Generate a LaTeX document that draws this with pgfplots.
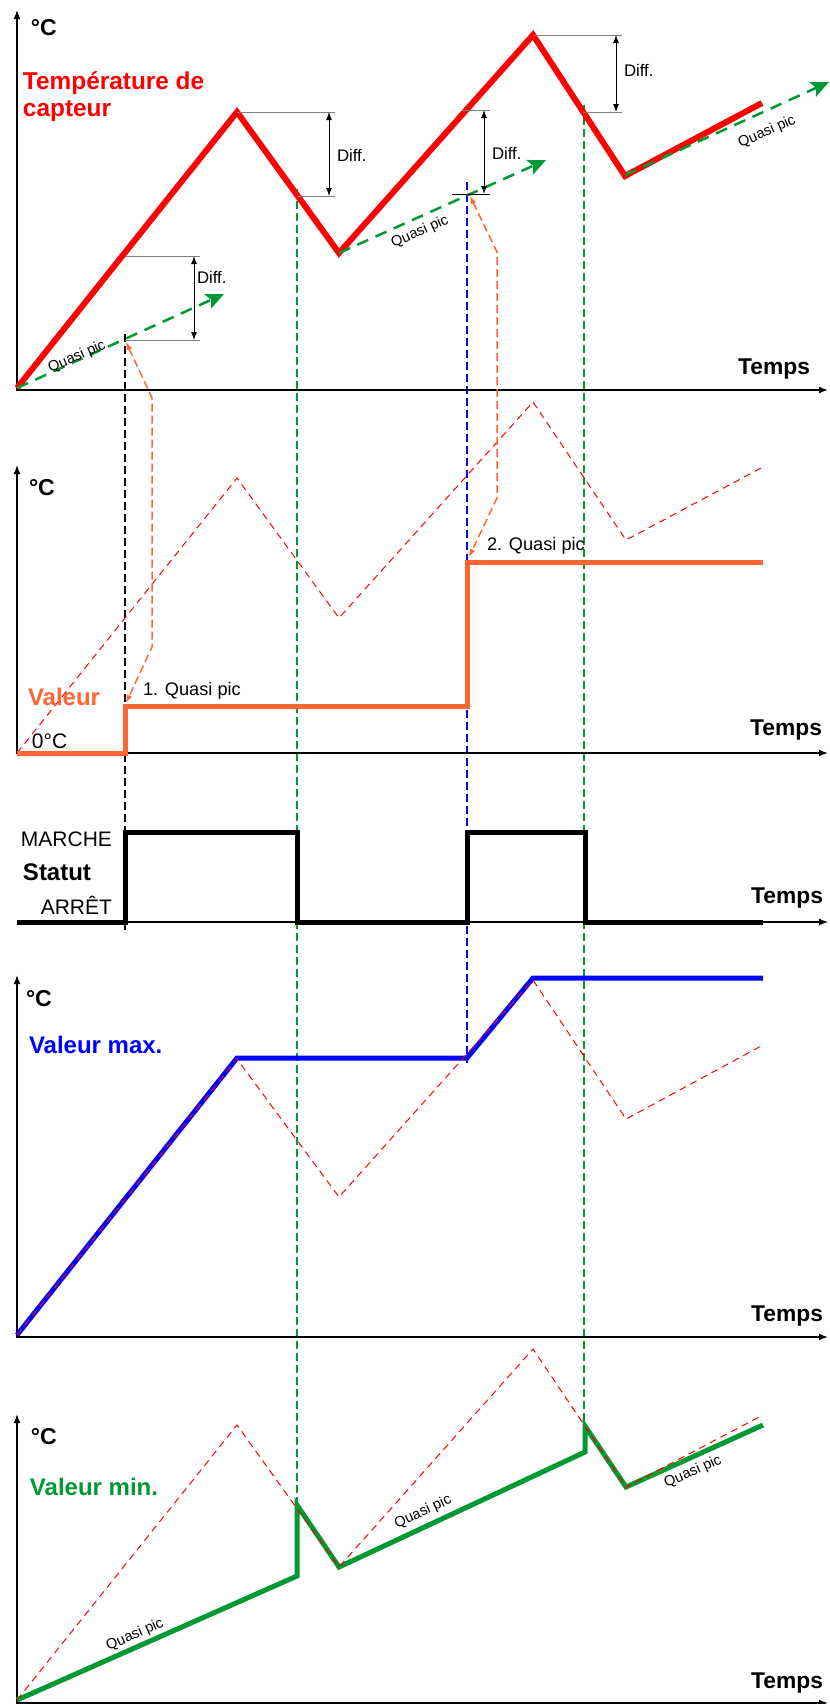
\documentclass[border=0pt]{standalone}
\usepackage{fontspec}
\setmainfont{Liberation Sans}
\usepackage{pgfplots}
\pgfplotsset{compat=1.18}
\usetikzlibrary{arrows.meta}
\definecolor{cred}{RGB}{255,0,0}
\definecolor{corange}{RGB}{255,102,51}
\definecolor{cgreen}{RGB}{0,153,51}
\definecolor{cblue}{RGB}{0,0,255}
\definecolor{cgray}{RGB}{128,128,128}
\newcommand{\fs}[1]{\fontsize{#1}{#1}\selectfont}
\tikzset{
  axln/.style={black, line width=0.75pt, {Latex[length=4.5pt,width=3.5pt]}-{Latex[length=4.5pt,width=3.5pt]}},
  guide/.style={line width=0.8pt, dash pattern=on 4pt off 2pt},
  refdash/.style={cred, line width=0.5pt, dash pattern=on 3.5pt off 2.5pt},
  garrow/.style={cgreen, line width=1.25pt, dash pattern=on 6pt off 4pt, -{Stealth[length=9pt,width=8pt,inset=2pt]}},
  oarrow/.style={corange, line width=0.75pt, dash pattern=on 4pt off 2pt, {Latex[length=4pt,width=3pt]}-{Latex[length=4pt,width=3pt]}},
  diffline/.style={cgray, line width=0.5pt},
  diffarrow/.style={black, line width=0.5pt, {Latex[length=4pt,width=3pt]}-{Latex[length=4pt,width=3pt]}},
  txt/.style={inner sep=0pt, outer sep=0pt},
}
\begin{document}
\begin{tikzpicture}
\begin{axis}[
  width=415pt, height=852pt, scale only axis,
  xmin=0, xmax=830, ymin=0, ymax=1704, y dir=reverse,
  hide axis, clip=false,
]
% ---------- vertical guides ----------
\addplot[guide, black] coordinates {(125,334) (125,933)};
\addplot[guide, cgreen] coordinates {(297,189) (297,1502)};
\addplot[guide, cblue] coordinates {(467,182) (467,1063)};
\addplot[guide, cgreen] coordinates {(584,105) (584,1424)};

% ---------- axes ----------
\addplot[axln] coordinates {(17,10) (17,390) (828,390)};
\addplot[axln] coordinates {(17,465) (17,753) (828,753)};
\addplot[black, line width=0.55pt, -{Latex[length=4.5pt,width=3.5pt]}] coordinates {(17,922) (828,922)};
\addplot[axln] coordinates {(17,975) (17,1337) (828,1337)};
\addplot[axln] coordinates {(17,1414) (17,1703) (828,1703)};

% ---------- panel 2 reference (dashed) ----------
\addplot[refdash] coordinates {(17,753) (237,478) (339,618) (533,402) (626,540) (763,467)};

% ---------- panel 1: sensor temperature ----------
\addplot[cred, line width=3pt] coordinates {(17,388) (237,112) (339,253) (533,35) (625,176) (762,103)};
\addplot[garrow] coordinates {(17,388) (224,294)};
\addplot[garrow] coordinates {(339,253) (546,160)};
\addplot[garrow] coordinates {(625,175) (829,82)};

% Diff. markers
\addplot[diffline] coordinates {(125,256) (200,256)};
\addplot[diffline] coordinates {(125,340) (200,340)};
\addplot[diffarrow] coordinates {(194,256) (194,340)};
\addplot[diffline] coordinates {(237,112) (335,112)};
\addplot[diffline] coordinates {(297,196) (335,196)};
\addplot[diffarrow] coordinates {(329,112) (329,196)};
\addplot[diffline] coordinates {(462,110) (490,110)};
\addplot[black, line width=0.5pt] coordinates {(452,194) (490,194)};
\addplot[diffarrow] coordinates {(484,110) (484,194)};
\addplot[diffline] coordinates {(533,35) (622,35)};
\addplot[diffline] coordinates {(583,112) (622,112)};
\addplot[diffarrow] coordinates {(616,35) (616,112)};

% orange links
\addplot[oarrow] coordinates {(126,342) (152,398) (152,647) (126,703)};
\addplot[oarrow] coordinates {(470,196) (497,252) (497,498) (469,557)};

% ---------- panel 2: value ----------
\addplot[corange, line width=2.5pt] coordinates {(17,753) (125,753) (125,706) (467,706) (467,562) (763,562)};

% ---------- panel 3: status ----------
\addplot[black, line width=2.5pt] coordinates {(17,922) (125,922) (125,832) (297,832) (297,922) (467,922) (467,832) (585,832) (585,922) (763,922)};

% ---------- panel 4: max value ----------
\addplot[cblue, line width=2.5pt] coordinates {(17,1335) (237,1058) (467,1058) (533,978) (763,978)};
\addplot[refdash] coordinates {(17,1335) (237,1059) (339,1197) (533,980) (626,1119) (763,1045)};

% ---------- panel 5: min value ----------
\addplot[cgreen, line width=2.5pt] coordinates {(17,1700) (297,1576) (297,1505) (339,1567) (585,1452) (585,1426) (626,1487) (763,1425)};
\addplot[refdash] coordinates {(17,1700) (237,1425) (339,1567) (533,1349) (626,1487) (763,1415)};

% ---------- texts ----------
\node[txt, anchor=base west, font=\fs{11.5pt}\bfseries] at (axis cs:31,35) {°C};
\node[txt, anchor=base west, font=\fs{12.2pt}\bfseries, text=cred] at (axis cs:23,89) {Température de};
\node[txt, anchor=base west, font=\fs{12.2pt}\bfseries, text=cred] at (axis cs:23,116.5) {capteur};
\node[txt, anchor=base east, font=\fs{11.4pt}\bfseries] at (axis cs:810,374) {Temps};
\node[txt, anchor=base west, font=\fs{8.4pt}] at (axis cs:197,283) {Diff.};
\node[txt, anchor=base west, font=\fs{8.4pt}] at (axis cs:337,161) {Diff.};
\node[txt, anchor=base west, font=\fs{8.4pt}] at (axis cs:492,159) {Diff.};
\node[txt, anchor=base west, font=\fs{8.4pt}] at (axis cs:624,76) {Diff.};
\node[txt, rotate=24, font=\fs{7.3pt}] at (axis cs:77,357) {Quasi pic};
\node[txt, rotate=24, font=\fs{7.3pt}] at (axis cs:420,232) {Quasi pic};
\node[txt, rotate=24, font=\fs{7.3pt}] at (axis cs:767,132) {Quasi pic};

\node[txt, anchor=base west, font=\fs{11.5pt}\bfseries] at (axis cs:29,495) {°C};
\node[txt, anchor=base west, font=\fs{12pt}\bfseries, text=corange] at (axis cs:28,705) {Valeur};
\node[txt, anchor=base west, font=\fs{10.5pt}] at (axis cs:32,748) {0°C};
\node[txt, anchor=base west, font=\fs{9.1pt}] at (axis cs:143,695) {1. Quasi pic};
\node[txt, anchor=base west, font=\fs{9.1pt}] at (axis cs:487,550) {2. Quasi pic};
\node[txt, anchor=base east, font=\fs{11.4pt}\bfseries] at (axis cs:822,735) {Temps};

\node[txt, anchor=base east, font=\fs{10.5pt}] at (axis cs:112,846) {MARCHE};
\node[txt, anchor=base west, font=\fs{12pt}\bfseries] at (axis cs:23,880) {Statut};
\node[txt, anchor=base east, font=\fs{10.5pt}] at (axis cs:112,914) {ARRÊT};
\node[txt, anchor=base east, font=\fs{11.4pt}\bfseries] at (axis cs:823,903) {Temps};

\node[txt, anchor=base west, font=\fs{11.5pt}\bfseries] at (axis cs:26,1006) {°C};
\node[txt, anchor=base west, font=\fs{12pt}\bfseries, text=cblue] at (axis cs:29,1053) {Valeur max.};
\node[txt, anchor=base east, font=\fs{11.4pt}\bfseries] at (axis cs:823,1321) {Temps};

\node[txt, anchor=base west, font=\fs{11.5pt}\bfseries] at (axis cs:31,1444) {°C};
\node[txt, anchor=base west, font=\fs{12pt}\bfseries, text=cgreen] at (axis cs:30,1495) {Valeur min.};
\node[txt, rotate=24, font=\fs{7.3pt}] at (axis cs:135,1635) {Quasi pic};
\node[txt, rotate=25, font=\fs{7.3pt}] at (axis cs:423,1512) {Quasi pic};
\node[txt, rotate=24, font=\fs{7.3pt}] at (axis cs:693,1472) {Quasi pic};
\node[txt, anchor=base east, font=\fs{11.4pt}\bfseries] at (axis cs:823,1688) {Temps};
\end{axis}
\pgfresetboundingbox
\useasboundingbox (0,0) rectangle (415pt,852pt);
\end{tikzpicture}
\end{document}
